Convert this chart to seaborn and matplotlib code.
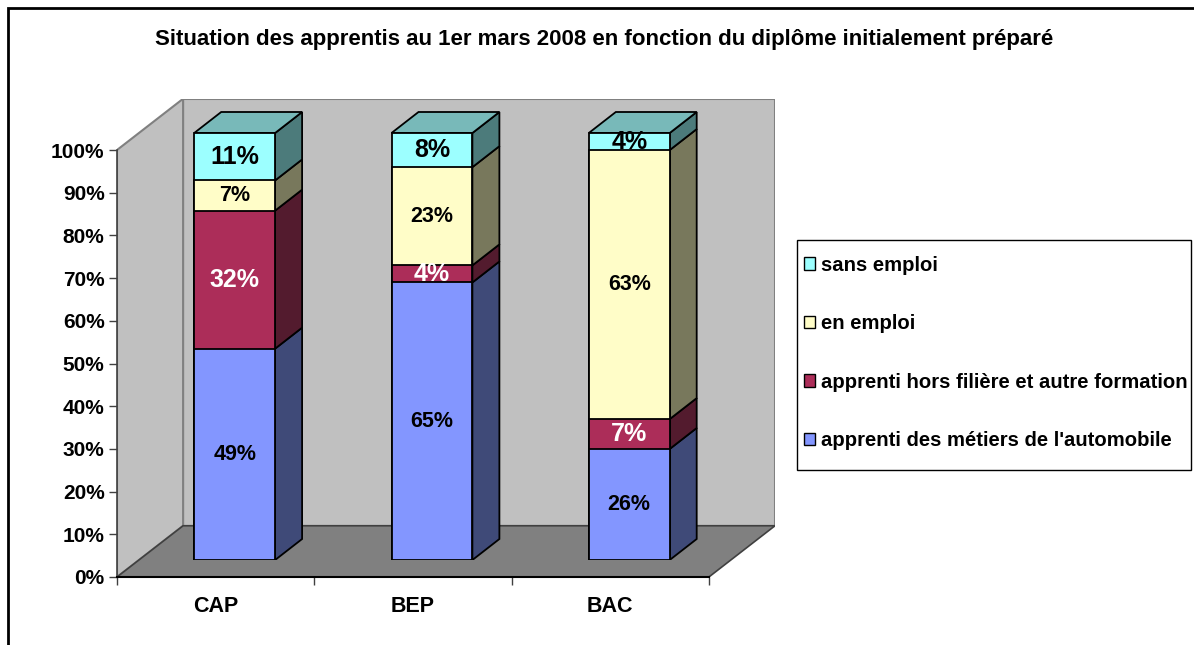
import numpy as np
import pandas as pd
import matplotlib
matplotlib.use("Agg")
import matplotlib.pyplot as plt
from matplotlib.patches import Polygon, Patch, Rectangle
import seaborn as sns

# DATA
diplomes = ["CAP", "BEP", "BAC"]
series = ["apprenti des métiers de l'automobile",
          "apprenti hors filière et autre formation",
          "en emploi",
          "sans emploi"]
automobile = [49, 65, 26]
hors_filiere = [32, 4, 7]
en_emploi = [7, 23, 63]
sans_emploi = [11, 8, 4]
y_ticks = list(range(0, 101, 10))

# STYLE
front_colors = ["#8396FF", "#AC2D59", "#FFFDC8", "#9CFFFF"]
side_colors = ["#3F4A78", "#531B2E", "#78785C", "#4C7B7B"]
top_color = "#78B9B9"
label_colors = ["black", "white", "black", "black"]
label_sizes = [15.5, 18, 15.5, 18]

sns.set_theme(style="white")
plt.rcParams["font.family"] = ["Liberation Sans", "DejaVu Sans"]
plt.rcParams["font.weight"] = "bold"
for k in ["text.color", "axes.labelcolor", "xtick.color", "ytick.color"]:
    plt.rcParams[k] = "black"

W, H = 1194, 645
fig = plt.figure(figsize=(W / 100, H / 100), dpi=100)

# pixel scale of the "3D" box
px_x, px_y = 197.3, 4.27
DX, DY = 0.335, 12.0          # full depth of the box (data units)
OX, OY = 19 / px_x, 17 / px_y # offset of the bar front faces
ddx, ddy = 27 / px_x, 21 / px_y  # depth of a bar
bar_w = 0.41

ax_w = (3 + DX) * px_x / W
ax_h = (100 + DY) * px_y / H
ax = fig.add_axes([117 / W, (H - 577) / H, ax_w, ax_h])
bx = fig.add_axes([(117 + OX * px_x) / W, (H - 577 + OY * px_y) / H, ax_w, ax_h])

# WALLS AND FLOOR
ax.set_facecolor("none")
ax.set_xlim(0, 3 + DX)
ax.set_ylim(0, 100 + DY)
ax.add_patch(Polygon([(DX, DY), (3 + DX, DY), (3 + DX, 100 + DY), (DX, 100 + DY)],
                     closed=True, fc="#C0C0C0", ec="#808080", lw=1.5, zorder=0))
ax.add_patch(Polygon([(0, 0), (DX, DY), (DX, 100 + DY), (0, 100)],
                     closed=True, fc="#C0C0C0", ec="#808080", lw=1.5, zorder=0))
ax.add_patch(Polygon([(0, 0), (3, 0), (3 + DX, DY), (DX, DY)],
                     closed=True, fc="#808080", ec="#404040", lw=1.2, zorder=0))

for s in ["top", "right"]:
    ax.spines[s].set_visible(False)
ax.spines["left"].set_bounds(0, 100)
ax.spines["bottom"].set_bounds(0, 3)
ax.spines["left"].set_color("#404040")
ax.spines["bottom"].set_color("black")
ax.spines["left"].set_linewidth(1.2)
ax.spines["bottom"].set_linewidth(1.5)

ax.set_yticks(y_ticks)
ax.set_yticklabels([f"{t}%" for t in y_ticks], fontsize=15, fontweight="bold")
ax.set_xticks([0, 1, 2, 3])
ax.set_xticklabels([])
ax.set_xticks([0.5, 1.5, 2.5], minor=True)
ax.set_xticklabels(diplomes, minor=True, fontsize=15.5, fontweight="bold")
ax.tick_params(axis="y", left=True, length=6, width=1, color="#404040", pad=3)
ax.tick_params(axis="x", which="major", bottom=True, length=6, width=1, color="#404040")
ax.tick_params(axis="x", which="minor", bottom=False, length=0, pad=14)

# STACKED BARS (100 %)
stack = np.array([automobile, hors_filiere, en_emploi, sans_emploi], dtype=float)
pct = stack / stack.sum(axis=0) * 100
cum = np.cumsum(pct, axis=0)

for i in reversed(range(len(series))):
    sns.barplot(x=diplomes, y=cum[i], color=front_colors[i], saturation=1,
                width=bar_w, edgecolor="black", linewidth=1.3, errorbar=None,
                ax=bx, zorder=3)

for j in range(len(diplomes)):
    xl, xr = j - bar_w / 2, j + bar_w / 2
    for i in range(len(series)):
        y0, y1 = cum[i][j] - pct[i][j], cum[i][j]
        bx.add_patch(Polygon([(xr, y0), (xr + ddx, y0 + ddy), (xr + ddx, y1 + ddy), (xr, y1)],
                             closed=True, fc=side_colors[i], ec="black", lw=1.3, zorder=2))
        bx.text(j, y1 - pct[i][j] / 2, f"{stack[i][j]:.0f}%", ha="center", va="center",
                color=label_colors[i], fontsize=label_sizes[i], fontweight="bold", zorder=5)
    top = cum[-1][j]
    bx.add_patch(Polygon([(xl, top), (xr, top), (xr + ddx, top + ddy), (xl + ddx, top + ddy)],
                         closed=True, fc=top_color, ec="black", lw=1.3, zorder=2))

bx.set_xlim(-0.5, 2.5 + DX)
bx.set_ylim(0, 100 + DY)
bx.set_facecolor("none")
bx.axis("off")

# TITLE, LEGEND, FRAME
fig.text(604 / W, 1 - 40 / H,
         "Situation des apprentis au 1er mars 2008 en fonction du diplôme initialement préparé",
         ha="center", va="center", fontsize=16, fontweight="bold")

handles = [Patch(fc=front_colors[i], ec="black", lw=1) for i in reversed(range(len(series)))]
leg = fig.legend(handles, list(reversed(series)), loc="center left",
                 bbox_to_anchor=(804 / W, 1 - 353 / H), borderaxespad=0, borderpad=0,
                 frameon=False, prop={"size": 14.6, "weight": "bold"}, labelspacing=1.95,
                 handlelength=0.55, handleheight=0.55, handletextpad=0.3)
fig.add_artist(Rectangle((797 / W, 1 - 470 / H), 394 / W, 230 / H, transform=fig.transFigure,
                         fill=False, ec="black", lw=1))

fig.add_artist(Rectangle((7.5 / W, -0.1), 1.2, 1.1 - 7.5 / H, transform=fig.transFigure,
                         fill=False, ec="black", lw=2))

fig.savefig("out.png", dpi=100)
